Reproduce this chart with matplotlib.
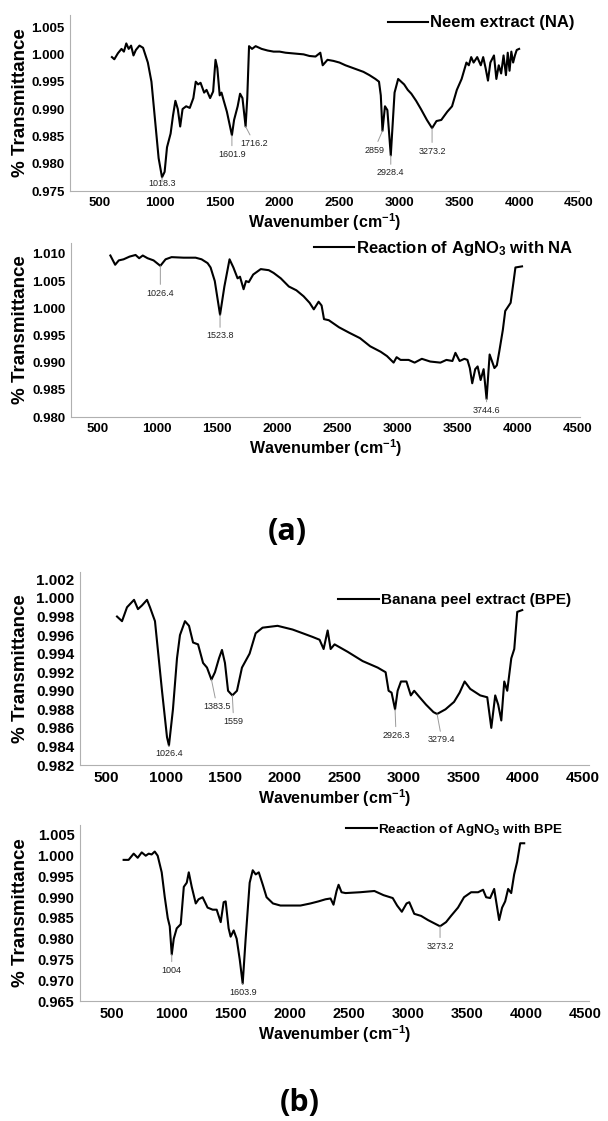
import numpy as np
import matplotlib
matplotlib.use("Agg")
import matplotlib.pyplot as plt

plt.rcParams['font.family'] = ['Liberation Sans', 'DejaVu Sans']
plt.rcParams['font.weight'] = 'bold'
plt.rcParams['mathtext.fontset'] = 'custom'
plt.rcParams['mathtext.rm'] = 'Liberation Sans:bold'
plt.rcParams['mathtext.bf'] = 'Liberation Sans:bold'
plt.rcParams['mathtext.default'] = 'bf'

# Neem extract (NA)
wn_na = [600, 620, 650, 680, 700, 720, 740, 760, 780, 800, 830, 860, 900, 930, 960, 990,
         1018.3, 1040, 1060, 1090, 1110, 1130, 1150, 1170, 1190, 1220, 1250, 1280, 1300, 1320,
         1340, 1370, 1390, 1420, 1445, 1465, 1480, 1500, 1515, 1530, 1560, 1601.9, 1620, 1650,
         1670, 1690, 1716.2, 1730, 1745, 1770, 1800, 1850, 1900, 1950, 2000, 2050, 2100, 2150,
         2200, 2250, 2300, 2340, 2360, 2400, 2450, 2500, 2550, 2600, 2650, 2700, 2750, 2800,
         2830, 2845, 2859, 2880, 2900, 2928.4, 2960, 2990, 3040, 3070, 3100, 3140, 3180, 3230,
         3273.2, 3310, 3350, 3400, 3440, 3480, 3520, 3560, 3580, 3600, 3620, 3650, 3680, 3700,
         3720, 3740, 3760, 3790, 3810, 3830, 3850, 3870, 3890, 3905, 3920, 3935, 3950, 3965,
         3980, 4000]
tr_na = [0.9995, 0.9991, 1.0002, 1.0010, 1.0005, 1.0020, 1.0010, 1.0016, 0.9998, 1.0008,
         1.0016, 1.0012, 0.9985, 0.9950, 0.9880, 0.9810, 0.9775, 0.9785, 0.9830, 0.9855,
         0.9888, 0.9915, 0.9900, 0.9868, 0.9900, 0.9905, 0.9902, 0.9920, 0.9950, 0.9945,
         0.9948, 0.9930, 0.9935, 0.9920, 0.9932, 0.9990, 0.9975, 0.9925, 0.9930, 0.9918,
         0.9895, 0.9852, 0.9880, 0.9905, 0.9928, 0.9920, 0.9868, 0.9920, 1.0015, 1.0010,
         1.0015, 1.0010, 1.0007, 1.0005, 1.0005, 1.0003, 1.0002, 1.0001, 1.0000, 0.9997,
         0.9996, 1.0003, 0.9980, 0.9990, 0.9988, 0.9985, 0.9980, 0.9976, 0.9972, 0.9968,
         0.9962, 0.9955, 0.9950, 0.9925, 0.9860, 0.9905, 0.9898, 0.9815, 0.9930, 0.9955,
         0.9945, 0.9935, 0.9928, 0.9915, 0.9900, 0.9880, 0.9865, 0.9878, 0.9880, 0.9895,
         0.9905, 0.9935, 0.9955, 0.9985, 0.9980, 0.9995, 0.9985, 0.9995, 0.9980, 0.9995,
         0.9975, 0.9952, 0.9985, 0.9998, 0.9955, 0.9980, 0.9965, 0.9998, 0.9962, 1.0003,
         0.9970, 1.0005, 0.9985, 0.9998, 1.0008, 1.0010]

# Reaction of AgNO3 with NA
wn_ag_na = [610, 650, 680, 720, 770, 820, 850, 880, 920, 970, 1026.4, 1070, 1120, 1220, 1320,
            1370, 1420, 1445, 1480, 1523.8, 1560, 1603, 1635, 1670, 1690, 1720, 1740, 1763,
            1800, 1863, 1930, 1970, 2030, 2097, 2160, 2220, 2270, 2305, 2345, 2370, 2390, 2430,
            2515, 2600, 2690, 2775, 2862, 2915, 2970, 2995, 3028, 3095, 3145, 3205, 3275, 3360,
            3410, 3460, 3485, 3520, 3560, 3585, 3605, 3625, 3650, 3670, 3695, 3720, 3744.6,
            3770, 3810, 3830, 3850, 3880, 3900, 3945, 3970, 3985, 4040]
tr_ag_na = [1.0097, 1.0080, 1.0088, 1.0090, 1.0095, 1.0098, 1.0092, 1.0097, 1.0092, 1.0088,
            1.0078, 1.0090, 1.0094, 1.0093, 1.0093, 1.0090, 1.0083, 1.0075, 1.0050, 0.9988,
            1.0040, 1.0090, 1.0075, 1.0055, 1.0058, 1.0035, 1.0050, 1.0048, 1.0062, 1.0072,
            1.0070, 1.0065, 1.0055, 1.0040, 1.0033, 1.0022, 1.0010, 0.9998, 1.0012, 1.0005,
            0.9980, 0.9978, 0.9965, 0.9955, 0.9945, 0.9930, 0.9920, 0.9912, 0.9900, 0.9910,
            0.9905, 0.9905, 0.9900, 0.9907, 0.9902, 0.9900, 0.9905, 0.9903, 0.9918, 0.9903,
            0.9907, 0.9905, 0.9890, 0.9862, 0.9888, 0.9893, 0.9868, 0.9888, 0.9833, 0.9915,
            0.9890, 0.9895, 0.9920, 0.9960, 0.9995, 1.0010, 1.0050, 1.0075, 1.0077]

# Banana peel extract (BPE)
wn_bpe = [590, 632, 674, 733, 766, 800, 842, 867, 909, 968, 1010, 1026.4, 1060, 1094, 1119,
          1161, 1195, 1229, 1271, 1313, 1346, 1383.5, 1413, 1447, 1472, 1497, 1523, 1559,
          1598, 1640, 1704, 1755, 1813, 1939, 2065, 2150, 2234, 2292, 2326, 2360, 2385, 2418,
          2528, 2654, 2780, 2847, 2872, 2897, 2926.3, 2948, 2976, 3022, 3059, 3087, 3133, 3187,
          3249, 3279.4, 3350, 3422, 3469, 3511, 3558, 3642, 3701, 3735, 3768, 3793, 3819, 3844,
          3869, 3903, 3928, 3953, 3995]
tr_bpe = [0.9980, 0.9975, 0.9990, 0.9998, 0.9988, 0.9992, 0.9998, 0.9990, 0.9975, 0.9900,
          0.9850, 0.9841, 0.9880, 0.9935, 0.9960, 0.9975, 0.9970, 0.9952, 0.9950, 0.9930,
          0.9925, 0.9912, 0.9920, 0.9935, 0.9944, 0.9930, 0.9900, 0.9895, 0.9900, 0.9925,
          0.9940, 0.9962, 0.9968, 0.9970, 0.9966, 0.9962, 0.9958, 0.9955, 0.9945, 0.9965,
          0.9945, 0.9950, 0.9942, 0.9932, 0.9925, 0.9920, 0.9900, 0.9898, 0.9880, 0.9900,
          0.9910, 0.9910, 0.9895, 0.9900, 0.9893, 0.9885, 0.9877, 0.9875, 0.9880, 0.9888,
          0.9898, 0.9910, 0.9902, 0.9895, 0.9893, 0.9860, 0.9895, 0.9885, 0.9868, 0.9910,
          0.9900, 0.9935, 0.9945, 0.9985, 0.9987]

# Reaction of AgNO3 with BPE
wn_ag_bpe = [597, 639, 682, 716, 750, 784, 809, 834, 860, 885, 919, 945, 970, 987, 1004, 1021,
             1046, 1080, 1106, 1131, 1148, 1173, 1207, 1231, 1265, 1307, 1350, 1384, 1418,
             1443, 1460, 1485, 1502, 1528, 1553, 1579, 1603.9, 1629, 1663, 1689, 1714, 1740,
             1774, 1806, 1860, 1923, 2093, 2177, 2245, 2304, 2347, 2372, 2398, 2415, 2440,
             2474, 2596, 2718, 2795, 2873, 2910, 2950, 2990, 3013, 3055, 3113, 3171, 3239,
             3273.2, 3324, 3366, 3425, 3476, 3536, 3595, 3637, 3663, 3697, 3731, 3773, 3798,
             3824, 3849, 3875, 3900, 3925, 3951, 3985]
tr_ag_bpe = [0.9990, 0.9990, 1.0005, 0.9995, 1.0008, 1.0000, 1.0005, 1.0003, 1.0010, 1.0000,
             0.9960, 0.9900, 0.9850, 0.9830, 0.9762, 0.9800, 0.9825, 0.9835, 0.9925, 0.9935,
             0.9960, 0.9925, 0.9885, 0.9895, 0.9900, 0.9875, 0.9870, 0.9870, 0.9840, 0.9888,
             0.9890, 0.9825, 0.9805, 0.9820, 0.9800, 0.9750, 0.9692, 0.9800, 0.9935, 0.9965,
             0.9955, 0.9960, 0.9930, 0.9900, 0.9885, 0.9880, 0.9880, 0.9885, 0.9890, 0.9895,
             0.9897, 0.9882, 0.9915, 0.9930, 0.9912, 0.9910, 0.9912, 0.9915, 0.9905, 0.9898,
             0.9880, 0.9865, 0.9885, 0.9888, 0.9860, 0.9855, 0.9845, 0.9835, 0.9830, 0.9840,
             0.9855, 0.9875, 0.9900, 0.9912, 0.9912, 0.9918, 0.9900, 0.9898, 0.9920, 0.9845,
             0.9875, 0.9890, 0.9920, 0.9910, 0.9955, 0.9985, 1.0030, 1.0030]

# peak labels: (wavenumber, transmittance at peak, text x, text y)
peaks_na = [(1018.3, 0.9775, 1018.3, 0.9764), (1601.9, 0.9852, 1601.9, 0.9817),
            (1716.2, 0.9868, 1790, 0.9837), (2859, 0.9860, 2790, 0.9825),
            (2928.4, 0.9815, 2928.4, 0.9783), (3273.2, 0.9865, 3273.2, 0.9823)]
peaks_ag_na = [(1026.4, 1.0078, 1026.4, 1.0028), (1523.8, 0.9988, 1523.8, 0.9949),
               (3744.6, 0.9833, 3744.6, 0.9812)]
peaks_bpe = [(1026.4, 0.9841, 1026.4, 0.9832), (1383.5, 0.9912, 1430, 0.9883),
             (1559, 0.9895, 1570, 0.9867), (2926.3, 0.9880, 2935, 0.9852),
             (3279.4, 0.9875, 3320, 0.9847)]
peaks_ag_bpe = [(1004, 0.9762, 1004, 0.9724), (1603.9, 0.9692, 1603.9, 0.9670),
                (3273.2, 0.9830, 3273.2, 0.9782)]

W, H = 608, 1121
fig = plt.figure(figsize=(W / 100, H / 100), dpi=100)


def panel(left, right, top, bottom, xlim, ylim, yticks, wn, tr, peaks, name,
          leg_x, leg_y, leg_fs, leg_len, tick_fs):
    ax = fig.add_axes([left / W, 1 - bottom / H, (right - left) / W, (bottom - top) / H])
    ax.plot(wn, tr, color='black', lw=1.5, label=name)
    ax.set_xlim(xlim)
    ax.set_ylim(ylim)
    ax.set_xticks(range(500, 4501, 500))
    ax.set_yticks(yticks)
    ax.set_yticklabels(['{:.3f}'.format(v) for v in yticks])
    for s in ['top', 'right']:
        ax.spines[s].set_visible(False)
    for s in ['left', 'bottom']:
        ax.spines[s].set_color('#b0b0b0')
        ax.spines[s].set_linewidth(0.8)
    ax.tick_params(length=0, labelsize=tick_fs, pad=4)
    for lab in ax.get_xticklabels() + ax.get_yticklabels():
        lab.set_fontweight('bold')
    ax.set_xlabel('Wavenumber (cm$^{-1}$)', fontsize=11.5, fontweight='bold', labelpad=2)
    ax.set_ylabel('% Transmittance', fontsize=13.5, fontweight='bold')
    ax.yaxis.set_label_coords(-(left - 29) / (right - left), 0.5)
    for x, y, tx, ty in peaks:
        ax.annotate(f'{x:g}', xy=(x, y), xytext=(tx, ty), ha='center', va='center',
                    fontsize=6.5, fontweight='normal', color='#222222',
                    arrowprops=dict(arrowstyle='-', color='#9a9a9a', lw=0.7,
                                    shrinkA=1, shrinkB=0))
    ax.legend(loc='center right', bbox_to_anchor=(leg_x / W, 1 - leg_y / H),
              bbox_transform=fig.transFigure, frameon=False, handlelength=leg_len,
              handletextpad=0.1, borderpad=0, borderaxespad=0,
              prop={'weight': 'bold', 'size': leg_fs})
    return ax


panel(70, 579, 15, 191, (250, 4500), (0.975, 1.0072),
      [0.975, 0.980, 0.985, 0.990, 0.995, 1.000, 1.005],
      wn_na, tr_na, peaks_na, 'Neem extract (NA)', 574, 23, 12, 2.4, 9.5)
panel(71, 580, 243, 417, (282, 4523), (0.980, 1.012),
      [0.980, 0.985, 0.990, 0.995, 1.000, 1.005, 1.010],
      wn_ag_na, tr_ag_na, peaks_ag_na, r'Reaction of AgNO$_3$ with NA', 573, 248, 12, 2.4, 9.5)
panel(80, 589, 572, 765, (279, 4556), (0.982, 1.0028),
      [0.982, 0.984, 0.986, 0.988, 0.990, 0.992, 0.994, 0.996, 0.998, 1.000, 1.002],
      wn_bpe, tr_bpe, peaks_bpe, 'Banana peel extract (BPE)', 571, 600, 11, 2.7, 11)
panel(80, 589, 825, 1001, (228, 4533), (0.965, 1.0074),
      [0.965, 0.970, 0.975, 0.980, 0.985, 0.990, 0.995, 1.000, 1.005],
      wn_ag_bpe, tr_ag_bpe, peaks_ag_bpe, r'Reaction of AgNO$_3$ with BPE', 563, 830, 9.7, 2.3, 10.5)

fig.text(287 / W, 1 - 532 / H, '(a)', ha='center', va='center', fontsize=22,
         fontweight='bold', family=['Open Sans', 'DejaVu Sans'])
fig.text(300 / W, 1 - 1103 / H, '(b)', ha='center', va='center', fontsize=22,
         fontweight='bold', family=['Open Sans', 'DejaVu Sans'])

fig.savefig('out.png', dpi=100)
